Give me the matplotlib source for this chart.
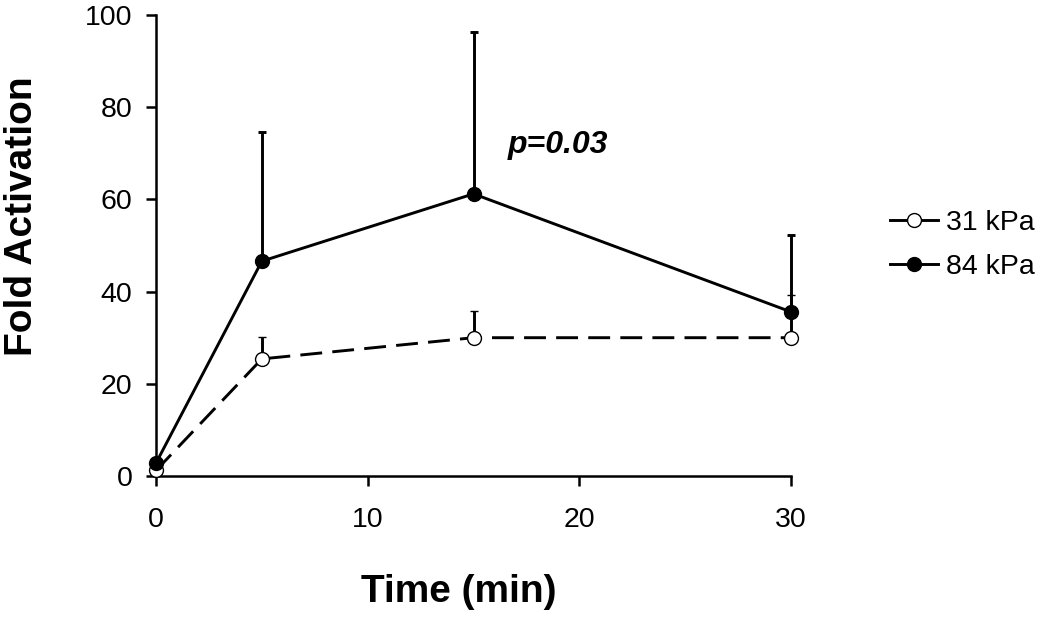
import matplotlib
matplotlib.use("Agg")
import matplotlib.pyplot as plt
from matplotlib.lines import Line2D

plt.rcParams['font.family'] = ['Liberation Sans', 'DejaVu Sans']

time = [0, 5, 15, 30]
kpa31 = [1.2, 25.4, 30.0, 30.0]
kpa31_err = [0.3, 4.8, 5.8, 9.3]
kpa84 = [2.8, 46.6, 61.2, 35.6]
kpa84_err = [0.3, 28.0, 35.1, 16.7]
labels = ["31 kPa", "84 kPa"]

fig = plt.figure(figsize=(10.5, 6.33), dpi=100)
ax = fig.add_axes([156/1050, 1-476/633, (791-156)/1050, (476-15)/633])

lw = 2.1
ms = 10
ax.errorbar(time, kpa31, yerr=[[0]*len(kpa31_err), kpa31_err], color='black',
            linestyle=(0, (7.5, 3.5)), linewidth=lw, marker='o', markersize=ms,
            markerfacecolor='white', markeredgecolor='black', markeredgewidth=1.0,
            ecolor='black', elinewidth=lw, capsize=3, capthick=lw, clip_on=False, zorder=3)
ax.errorbar(time, kpa84, yerr=[[0]*len(kpa84_err), kpa84_err], color='black',
            linestyle='-', linewidth=lw, marker='o', markersize=ms,
            markerfacecolor='black', markeredgecolor='black',
            ecolor='black', elinewidth=lw, capsize=3, capthick=lw, clip_on=False, zorder=4)

ax.set_xlim(0, 30)
ax.set_ylim(0, 100)
ax.set_xticks([0, 10, 20, 30])
ax.set_yticks([0, 20, 40, 60, 80, 100])
for s in ['top', 'right']:
    ax.spines[s].set_visible(False)
for s in ['left', 'bottom']:
    ax.spines[s].set_linewidth(1.8)
ax.tick_params(axis='both', direction='out', length=7, width=1.8, labelsize=20.5)
ax.tick_params(axis='y', pad=10)
ax.tick_params(axis='x', pad=15)

ax.set_xlabel("Time (min)", fontsize=28, fontweight='bold')
ax.set_ylabel("Fold Activation", fontsize=28, fontweight='bold')
ax.xaxis.set_label_coords(0.476, -0.212)
ax.yaxis.set_label_coords(-0.182, 0.564)

ax.text(16.6, 70, "p=0.03", fontsize=23, fontweight='bold', fontstyle='italic',
        ha='left', va='baseline')

handles = [
    Line2D([], [], color='black', linewidth=lw, marker='o', markersize=ms,
           markerfacecolor='white', markeredgecolor='black', markeredgewidth=1.0),
    Line2D([], [], color='black', linewidth=lw, marker='o', markersize=ms,
           markerfacecolor='black', markeredgecolor='black'),
]
fig.legend(handles, labels, loc='center left', bbox_to_anchor=(890/1050, 1-245/633),
           frameon=False, fontsize=20.5, handlelength=1.7, handletextpad=0.25,
           labelspacing=0.6, borderpad=0, borderaxespad=0)

fig.savefig("out.png", dpi=100)
